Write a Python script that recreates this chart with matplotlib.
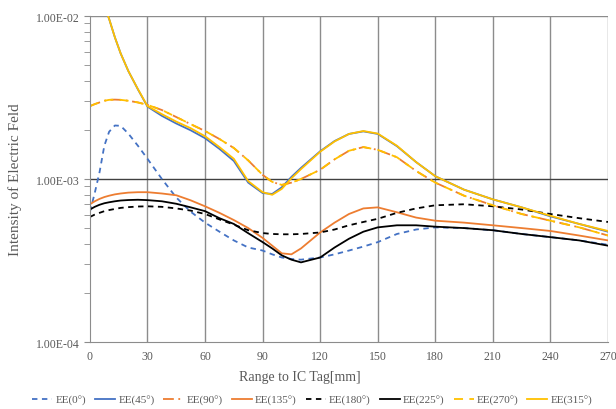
import numpy as np
import matplotlib
matplotlib.use("Agg")
import matplotlib.pyplot as plt
from matplotlib.ticker import FixedLocator, NullFormatter

plt.rcParams['font.family'] = ['Liberation Serif', 'DejaVu Serif']

# ── data ──────────────────────────────────────────────────────────────────────
x_mm = [0, 2.5, 5, 7.5, 10, 13, 16, 20, 25, 30, 37.5, 45, 52.5, 60, 67.5, 75,
        82.5, 90, 95, 100, 105, 110, 120, 127.5, 135, 142.5, 150, 160, 170,
        180, 195, 210, 225, 240, 255, 270]

ee_0 = [6.3e-4, 8.2e-4, 1.1e-3, 1.6e-3, 1.95e-3, 2.13e-3, 2.12e-3, 1.9e-3,
        1.6e-3, 1.33e-3, 1.0e-3, 7.7e-4, 6.3e-4, 5.4e-4, 4.75e-4, 4.2e-4,
        3.8e-4, 3.64e-4, 3.45e-4, 3.3e-4, 3.23e-4, 3.2e-4, 3.3e-4, 3.45e-4,
        3.64e-4, 3.85e-4, 4.1e-4, 4.6e-4, 4.9e-4, 5.05e-4, 5.0e-4, 4.85e-4,
        4.6e-4, 4.4e-4, 4.2e-4, 3.95e-4]
ee_45 = [2.2e-2, 1.75e-2, 1.4e-2, 1.15e-2, 9.6e-3, 7.4e-3, 5.9e-3, 4.6e-3,
         3.55e-3, 2.78e-3, 2.44e-3, 2.19e-3, 1.99e-3, 1.78e-3, 1.53e-3, 1.29e-3,
         9.5e-4, 8.2e-4, 8.1e-4, 8.9e-4, 1.03e-3, 1.17e-3, 1.48e-3, 1.71e-3,
         1.89e-3, 1.96e-3, 1.89e-3, 1.59e-3, 1.27e-3, 1.04e-3, 8.6e-4, 7.5e-4,
         6.7e-4, 5.9e-4, 5.3e-4, 4.75e-4]
ee_90 = [2.8e-3, 2.88e-3, 2.95e-3, 3.02e-3, 3.06e-3, 3.07e-3, 3.06e-3, 3.02e-3,
         2.95e-3, 2.85e-3, 2.65e-3, 2.4e-3, 2.17e-3, 1.97e-3, 1.76e-3, 1.55e-3,
         1.3e-3, 1.06e-3, 9.6e-4, 9.2e-4, 9.5e-4, 1.0e-3, 1.14e-3, 1.32e-3,
         1.49e-3, 1.57e-3, 1.51e-3, 1.36e-3, 1.12e-3, 9.5e-4, 7.9e-4, 6.9e-4,
         6.1e-4, 5.55e-4, 5.05e-4, 4.5e-4]
ee_135 = [7.0e-4, 7.3e-4, 7.55e-4, 7.75e-4, 7.9e-4, 8.05e-4, 8.15e-4, 8.25e-4,
          8.3e-4, 8.3e-4, 8.15e-4, 7.95e-4, 7.4e-4, 6.8e-4, 6.2e-4, 5.6e-4,
          5.0e-4, 4.35e-4, 3.9e-4, 3.5e-4, 3.45e-4, 3.75e-4, 4.7e-4, 5.4e-4,
          6.1e-4, 6.6e-4, 6.7e-4, 6.25e-4, 5.8e-4, 5.55e-4, 5.4e-4, 5.2e-4,
          5.0e-4, 4.8e-4, 4.5e-4, 4.2e-4]
ee_180 = [5.85e-4, 6.05e-4, 6.2e-4, 6.35e-4, 6.45e-4, 6.55e-4, 6.65e-4, 6.72e-4,
          6.78e-4, 6.8e-4, 6.75e-4, 6.6e-4, 6.4e-4, 6.1e-4, 5.65e-4, 5.25e-4,
          4.85e-4, 4.66e-4, 4.6e-4, 4.58e-4, 4.58e-4, 4.6e-4, 4.7e-4, 4.9e-4,
          5.2e-4, 5.45e-4, 5.7e-4, 6.2e-4, 6.6e-4, 6.9e-4, 7.0e-4, 6.8e-4,
          6.5e-4, 6.1e-4, 5.75e-4, 5.45e-4]
ee_225 = [6.5e-4, 6.75e-4, 6.95e-4, 7.1e-4, 7.2e-4, 7.3e-4, 7.38e-4, 7.43e-4,
          7.46e-4, 7.42e-4, 7.3e-4, 7.05e-4, 6.7e-4, 6.35e-4, 5.75e-4, 5.3e-4,
          4.65e-4, 4.1e-4, 3.75e-4, 3.4e-4, 3.2e-4, 3.08e-4, 3.3e-4, 3.8e-4,
          4.3e-4, 4.75e-4, 5.05e-4, 5.2e-4, 5.2e-4, 5.1e-4, 5.0e-4, 4.85e-4,
          4.6e-4, 4.4e-4, 4.2e-4, 3.9e-4]
ee_270 = [2.8e-3, 2.88e-3, 2.95e-3, 3.02e-3, 3.06e-3, 3.07e-3, 3.06e-3, 3.02e-3,
          2.95e-3, 2.85e-3, 2.65e-3, 2.4e-3, 2.17e-3, 1.97e-3, 1.76e-3, 1.55e-3,
          1.3e-3, 1.06e-3, 9.6e-4, 9.2e-4, 9.5e-4, 1.0e-3, 1.14e-3, 1.32e-3,
          1.49e-3, 1.57e-3, 1.51e-3, 1.36e-3, 1.12e-3, 9.5e-4, 7.9e-4, 6.9e-4,
          6.1e-4, 5.55e-4, 5.05e-4, 4.5e-4]
ee_315 = [2.2e-2, 1.75e-2, 1.4e-2, 1.15e-2, 9.6e-3, 7.4e-3, 5.9e-3, 4.6e-3,
          3.56e-3, 2.8e-3, 2.5e-3, 2.25e-3, 2.05e-3, 1.83e-3, 1.57e-3, 1.33e-3,
          9.7e-4, 8.3e-4, 8.0e-4, 8.7e-4, 1.01e-3, 1.15e-3, 1.47e-3, 1.7e-3,
          1.89e-3, 1.97e-3, 1.9e-3, 1.6e-3, 1.27e-3, 1.04e-3, 8.6e-4, 7.5e-4,
          6.7e-4, 5.95e-4, 5.3e-4, 4.8e-4]

labels = ["EE(0°)", "EE(45°)", "EE(90°)", "EE(135°)",
          "EE(180°)", "EE(225°)", "EE(270°)", "EE(315°)"]
x_ticks = [0, 30, 60, 90, 120, 150, 180, 210, 240, 270]

# ── styles ────────────────────────────────────────────────────────────────────
BLUE, ORANGE, BLACK, YELLOW = "#4472C4", "#ED7D31", "#000000", "#FFC000"
TXT = "#595959"
GRID = "#8c8c8c"
styles = [
    dict(color=BLUE, ls=(0, (3, 2.5))),
    dict(color=BLUE, ls="-"),
    dict(color=ORANGE, ls=(0, (6, 2.5, 1, 2.5))),
    dict(color=ORANGE, ls="-"),
    dict(color=BLACK, ls=(0, (3, 2.5))),
    dict(color=BLACK, ls="-"),
    dict(color=YELLOW, ls=(0, (5, 3.5))),
    dict(color=YELLOW, ls="-"),
]
series = [ee_0, ee_45, ee_90, ee_135, ee_180, ee_225, ee_270, ee_315]

fig = plt.figure(figsize=(6.16, 4.10), dpi=100)
ax = fig.add_axes([0.146, 0.1634, 0.841, 0.7951])

for gx in x_ticks[1:]:
    ax.axvline(gx, color=GRID, lw=1.0, zorder=0)
ax.axhline(1e-3, color="#404040", lw=1.0, zorder=0)
ax.axhline(1e-2, color=GRID, lw=1.0, zorder=0)

for y, lab, st in zip(series, labels, styles):
    ax.plot(x_mm, y, lw=1.3, label=lab, **st)

ax.set_yscale("log")
ax.set_xlim(0, 270)
ax.set_ylim(1e-4, 1e-2)
ax.set_xticks(x_ticks)
ax.set_yticks([1e-4, 1e-3, 1e-2])
ax.set_yticklabels(["1.00E-04", "1.00E-03", "1.00E-02"])
minor = [m * 10.0 ** e for e in (-4, -3) for m in range(2, 10)]
ax.yaxis.set_minor_locator(FixedLocator(minor))
ax.yaxis.set_minor_formatter(NullFormatter())
ax.tick_params(axis="y", which="major", length=4, color=GRID,
               labelsize=8.5, labelcolor=TXT)
ax.tick_params(axis="y", which="minor", length=4, color=GRID)
ax.tick_params(axis="x", length=0, labelsize=8.5, labelcolor=TXT, pad=6)

for s in ("top", "right"):
    ax.spines[s].set_visible(False)
for s in ("left", "bottom"):
    ax.spines[s].set_color(GRID)

ax.set_xlabel("Range to IC Tag[mm]", fontsize=10, color=TXT)
ax.xaxis.set_label_coords(0.405, -0.085)
ax.set_ylabel("Intensity of Electric Feld", fontsize=11, color=TXT, labelpad=10)

fig.legend(loc="lower center", bbox_to_anchor=(0.507, -0.015), ncol=8,
           frameon=False, fontsize=8, labelcolor=TXT, handlelength=1.8,
           columnspacing=0.8, handletextpad=0.3)

fig.savefig("out.png", dpi=100)
